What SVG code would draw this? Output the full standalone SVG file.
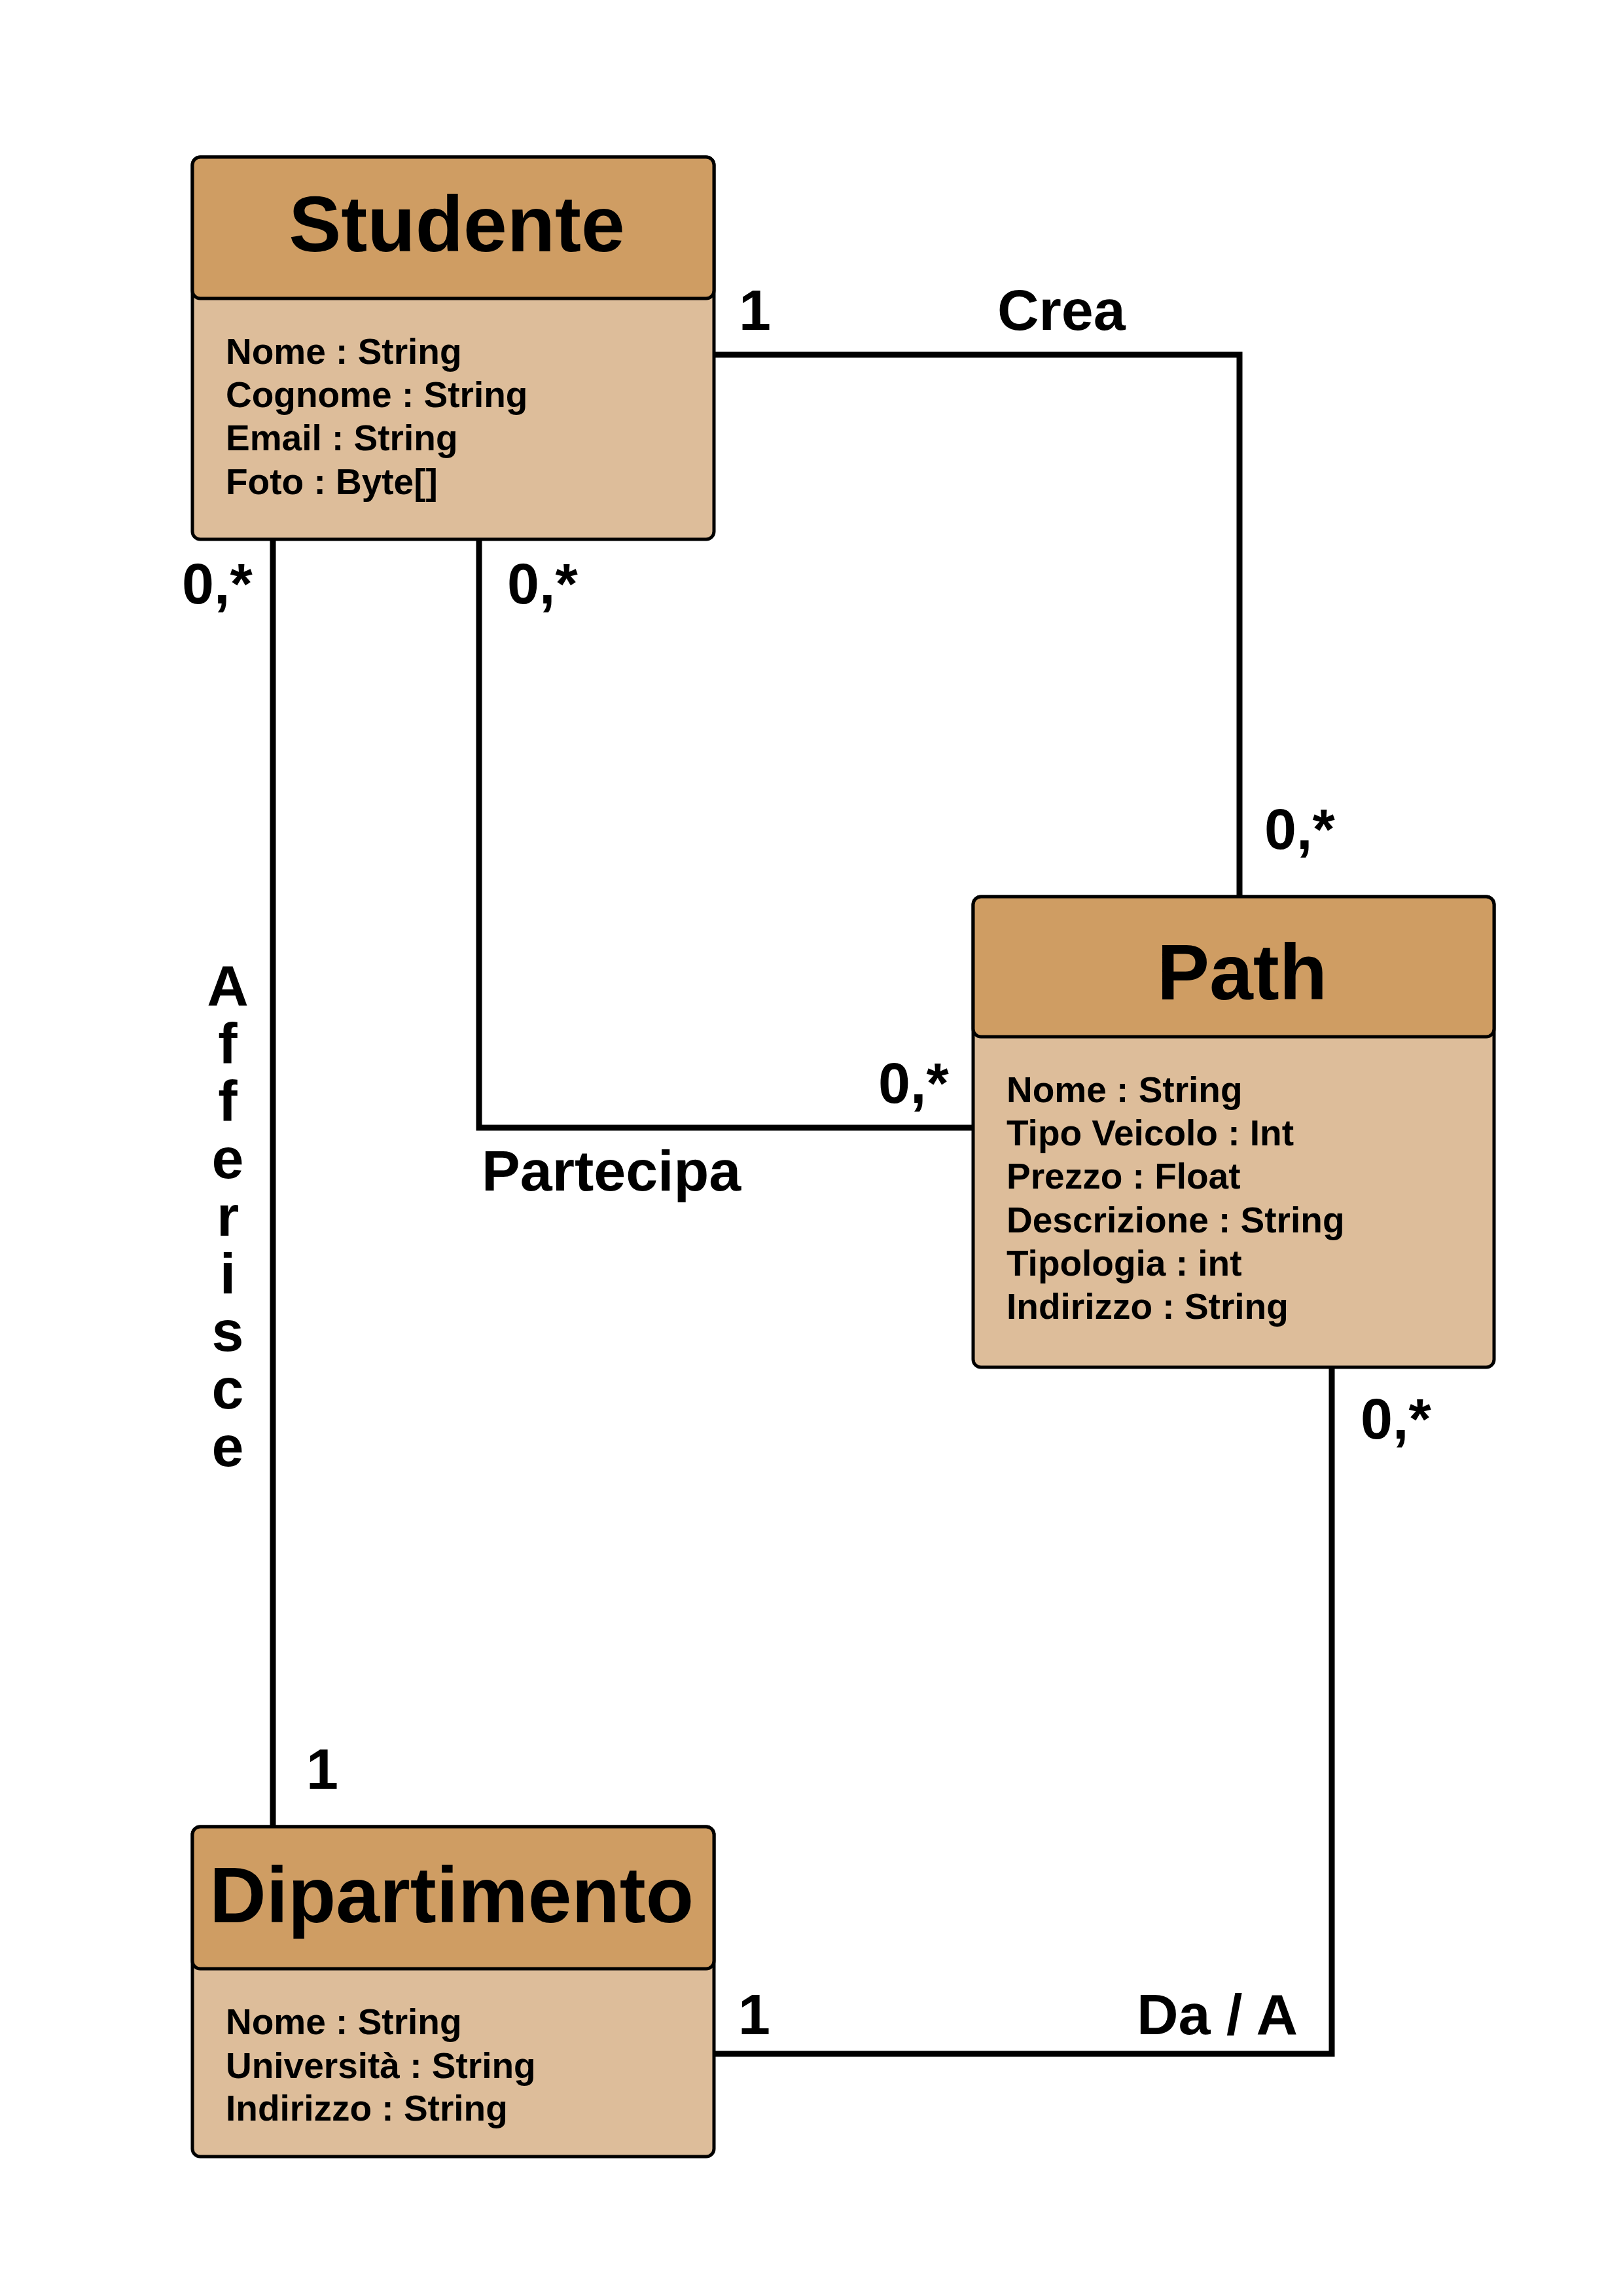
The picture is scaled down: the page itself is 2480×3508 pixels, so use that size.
<svg xmlns="http://www.w3.org/2000/svg" width="2480" height="3508" viewBox="0 0 2480 3508">
<style>
.box{fill:#DDBD9A;stroke:#000;stroke-width:5}
.head{fill:#CF9D63;stroke:#000;stroke-width:5}
.title{font-family:"Liberation Sans",Arial,sans-serif;font-weight:bold;font-size:120px;text-anchor:middle;fill:#000}
.attr{font-family:"Liberation Sans",Arial,sans-serif;font-weight:bold;font-size:55px;fill:#000}
.lbl{font-family:"Liberation Sans",Arial,sans-serif;font-weight:bold;font-size:88px;fill:#000}
.vert{writing-mode:vertical-rl;text-orientation:upright;letter-spacing:-11px}
.conn{fill:none;stroke:#000;stroke-width:9}
</style>
<rect width="2480" height="3508" fill="#fff"/>
<g id="connectors">
<path class="conn" d="M1091 542 H1894 V1370"/>
<path class="conn" d="M732 824 V1723 H1487"/>
<path class="conn" d="M417 824 V2791"/>
<path class="conn" d="M1091 3138 H2035 V2089"/>
</g>
<g id="studente">
<rect class="box" x="294" y="240" width="797" height="584" rx="12"/>
<rect class="head" x="294" y="240" width="797" height="216" rx="12"/>
<text class="title" x="698" y="384">Studente</text>
<text class="attr" x="345" y="556">Nome : String</text>
<text class="attr" x="345" y="622">Cognome : String</text>
<text class="attr" x="345" y="688">Email : String</text>
<text class="attr" x="345" y="755">Foto : Byte[]</text>
</g>
<g id="path">
<rect class="box" x="1487" y="1370" width="796" height="719" rx="12"/>
<rect class="head" x="1487" y="1370" width="796" height="214" rx="12"/>
<text class="title" x="1898" y="1527">Path</text>
<text class="attr" x="1538" y="1684">Nome : String</text>
<text class="attr" x="1538" y="1750">Tipo Veicolo : Int</text>
<text class="attr" x="1538" y="1816">Prezzo : Float</text>
<text class="attr" x="1538" y="1883">Descrizione : String</text>
<text class="attr" x="1538" y="1949">Tipologia : int</text>
<text class="attr" x="1538" y="2015">Indirizzo : String</text>
</g>
<g id="dipartimento">
<rect class="box" x="294" y="2791" width="797" height="504" rx="12"/>
<rect class="head" x="294" y="2791" width="797" height="217" rx="12"/>
<text class="title" x="690" y="2937">Dipartimento</text>
<text class="attr" x="345" y="3108">Nome : String</text>
<text class="attr" x="345" y="3175">Università : String</text>
<text class="attr" x="345" y="3240">Indirizzo : String</text>
</g>
<g id="labels">
<text class="lbl" x="1129" y="504">1</text>
<text class="lbl" x="1524" y="504">Crea</text>
<text class="lbl" x="1932" y="1297">0,*</text>
<text class="lbl" x="278" y="922">0,*</text>
<text class="lbl" x="775" y="922">0,*</text>
<text class="lbl" x="1342" y="1685">0,*</text>
<text class="lbl" x="736" y="1819">Partecipa</text>
<text class="lbl" x="2079" y="2198">0,*</text>
<text class="lbl" x="468" y="2733">1</text>
<text class="lbl" x="1128" y="3108">1</text>
<text class="lbl" x="1737" y="3108">Da / A</text>
<text class="lbl vert" x="348" y="1456">Afferisce</text>
</g>
</svg>
